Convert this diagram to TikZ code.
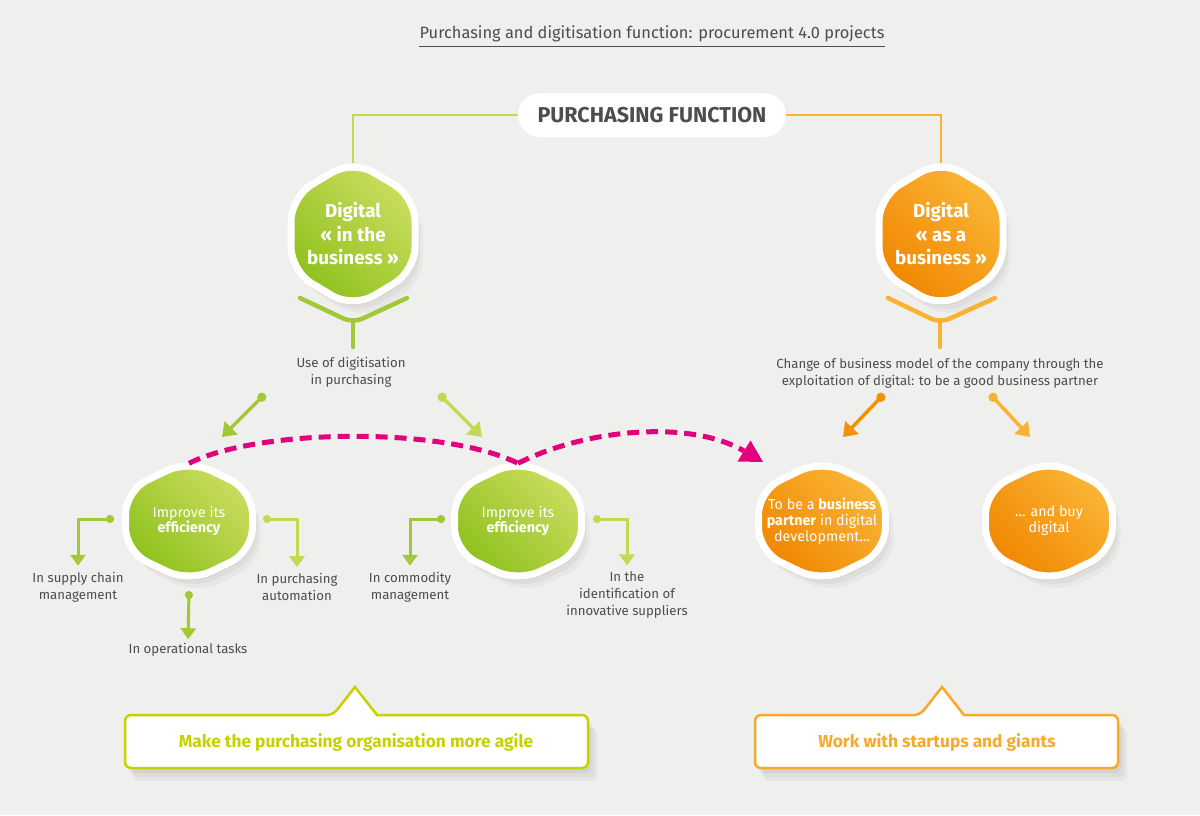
\documentclass[tikz,border=0pt]{standalone}
\usepackage{fontspec}
\setmainfont{Fira Sans}
\usetikzlibrary{arrows.meta,calc}
\definecolor{bg}{HTML}{EFEFED}
\definecolor{txt}{HTML}{4D4D4D}
\definecolor{gL}{HTML}{CCDD60}
\definecolor{gD}{HTML}{8DC11C}
\definecolor{glineD}{HTML}{A2C838}
\definecolor{glineL}{HTML}{C2D952}
\definecolor{oL}{HTML}{FBB637}
\definecolor{oD}{HTML}{F08600}
\definecolor{olineD}{HTML}{F39200}
\definecolor{olineL}{HTML}{F9B233}
\definecolor{mag}{HTML}{E4007C}
\definecolor{lime}{HTML}{C6D200}
\definecolor{ocall}{HTML}{F7AA2A}
\newcommand\hexnode[8]{%
 \begin{scope}[shift={(#2)}]
  \foreach \o/\p/\q in {2/4/0.05,5/8/0.04,8/12/0.03}{
   \fill[black,opacity=\q,rounded corners=24pt,shift={(\o,\p)}]
     (0,-#4) -- (#3,-#4/2) -- (#3,#4/2) -- (0,#4) -- (-#3,#4/2) -- (-#3,-#4/2) -- cycle;}
  \path[draw=white,line width=7pt,top color=#5,bottom color=#6,shading angle=-45,rounded corners=24pt]
     (0,-#4) -- (#3,-#4/2) -- (#3,#4/2) -- (0,#4) -- (-#3,#4/2) -- (-#3,-#4/2) -- cycle;
 \end{scope}
 \node[#7,minimum width={2*#3+7},minimum height={2*#4-7}] (#1) at (#2) {#8};}
\begin{document}
\begin{tikzpicture}[x=1pt,y=-1pt,
  lab/.style={align=center,text=txt,font=\fontsize{13.2}{17}\selectfont,inner sep=0pt},
  bigtext/.style={align=center,text=white,font=\fontsize{18.8}{23.5}\selectfont\bfseries,inner sep=0pt},
  smalltext/.style={align=center,text=white,font=\fontsize{14.3}{16}\selectfont,inner sep=0pt},
  brG/.style={draw=#1,line width=3pt,{Circle[length=8pt]}-{Triangle[length=11pt,width=15pt]}},
  diag/.style={draw=#1,line width=3.5pt,{Circle[length=9pt]}-{Triangle[length=13pt,width=18pt]}},
  bracket/.style={draw=#1,line width=4.5pt,line cap=round,rounded corners=10pt},
  magdash/.style={draw=mag,line width=5pt,dash pattern=on 12pt off 7pt},
  conn/.style={draw=#1,line width=1.5pt}
]
\fill[bg] (0,0) rectangle (1200,815);
\useasboundingbox (0,0) rectangle (1200,815);

% title
\node[text=txt,font=\fontsize{16.4}{19}\selectfont,inner sep=0pt] (title) at (652,34) {Purchasing and digitisation function: procurement 4.0 projects};
\draw[txt,line width=1pt] (419,46) -- (885,46);

% purchasing function pill
\node[fill=white,rounded corners=22pt,minimum width=268pt,minimum height=44pt,text=txt,font=\fontsize{21.5}{24}\selectfont\bfseries] (pf) at (652,115) {PURCHASING FUNCTION};

% big hexagons
\hexnode{H1}{353,234}{62}{74}{gL}{gD}{bigtext}{Digital\\« in the\\business »}
\hexnode{H2}{941,234}{62}{74}{oL}{oD}{bigtext}{Digital\\« as a\\business »}

\draw[conn=glineL] (pf.west) -| (H1.north);
\draw[conn=olineL] (pf.east) -| (H2.north);

% brackets
\draw[bracket=glineD] (300,298) -- (353,323) -- (407,298);
\draw[bracket=glineD,rounded corners=0pt] (353,322) -- (353,347);
\draw[bracket=olineL] (888,298) -- (940,323) -- (995,298);
\draw[bracket=olineL,rounded corners=0pt] (940,322) -- (940,347);

% descriptions
\node[lab] (u1) at (351,372) {Use of digitisation\\in purchasing};
\node[lab] (u2) at (940,373) {Change of business model of the company through the\\exploitation of digital: to be a good business partner};

% small hexagons
\hexnode{h1}{189,521}{63.5}{61}{gL}{gD}{smalltext}{Improve its\\\textbf{efficiency}}
\hexnode{h2}{518,521}{63.5}{61}{gL}{gD}{smalltext}{Improve its\\\textbf{efficiency}}
\hexnode{h3}{822,521}{63.5}{61}{oL}{oD}{smalltext}{To be a \textbf{business}\\\textbf{partner} in digital\\development...}
\hexnode{h4}{1049,521}{63.5}{61}{oL}{oD}{smalltext}{... and buy\\digital}

% diagonal arrows
\coordinate (g1s) at (265,394); \coordinate (g1t) at (222,437);
\coordinate (g2s) at (439,394); \coordinate (g2t) at (482,437);
\coordinate (o1s) at (884,394); \coordinate (o1t) at (843,437);
\coordinate (o2s) at (990,394); \coordinate (o2t) at (1030,437);
\draw[diag=glineD] (g1s) -- (g1t);
\draw[diag=glineL] (g2s) -- (g2t);
\draw[diag=olineD] (o1s) -- (o1t);
\draw[diag=olineL] (o2s) -- (o2t);

% branch labels
\node[lab] (l1) at (78,587) {In supply chain\\management};
\node[lab] (l2) at (297,587) {In purchasing\\automation};
\node[lab] (l3) at (188,650) {In operational tasks};
\node[lab] (l4) at (410,587) {In commodity\\management};
\node[lab] (l5) at (627,595) {In the\\identification of\\innovative suppliers};

\coordinate (b1) at (114,519);
\coordinate (b2) at (263,519);
\coordinate (b3) at (189,591);
\coordinate (b4) at (445,519);
\coordinate (b5) at (593,519);
\draw[brG=glineD,shorten >=6pt] (b1) -| (l1.north);
\draw[brG=glineL,shorten >=6pt] (b2) -| (l2.north);
\draw[brG=glineD,shorten >=4pt] (b3) -- (l3.north);
\draw[brG=glineD,shorten >=6pt] (b4) -| (l4.north);
\draw[brG=glineL,shorten >=6pt] (b5) -| (l5.north);

% magenta dashed arcs
\coordinate (mbase) at (744,451);
\coordinate (mtip) at (763,462);
\draw[magdash] (h1.north) .. controls +(70,-35) and +(-75,-37) .. (h2.north);
\draw[magdash] (h2.north) .. controls +(67,-34) and +(-55,-32) .. (mbase);
\fill[mag] (mtip) -- ($(mbase)+(-6.5,10.5)$) -- ($(mbase)+(6.5,-10.5)$) -- cycle;

% callouts
\foreach \o/\p in {3/5,6/9,9/13}{
  \fill[black,opacity=0.04,shift={(\o,\p)},rounded corners=6pt] (125,715) rectangle (588,768);
  \fill[black,opacity=0.04,shift={(\o,\p)},rounded corners=6pt] (755,715) rectangle (1118,768);}
\draw[lime,fill=white,line width=2.5pt,line join=miter]
  (125,741) [rounded corners=6pt] |- (333,715) [sharp corners] -- (355,687) -- (377,715) [rounded corners=6pt] -| (588,768) -| (125,741) [sharp corners] -- cycle;
\draw[ocall,fill=white,line width=2.5pt,line join=miter]
  (755,741) [rounded corners=6pt] |- (920,715) [sharp corners] -- (942,687) -- (964,715) [rounded corners=6pt] -| (1118,768) -| (755,741) [sharp corners] -- cycle;
\node[text=lime,font=\fontsize{17.3}{20}\selectfont\bfseries] (cg) at (356,742) {Make the purchasing organisation more agile};
\node[text=ocall,font=\fontsize{17.3}{20}\selectfont\bfseries] (co) at (937,742) {Work with startups and giants};
\end{tikzpicture}
\end{document}
